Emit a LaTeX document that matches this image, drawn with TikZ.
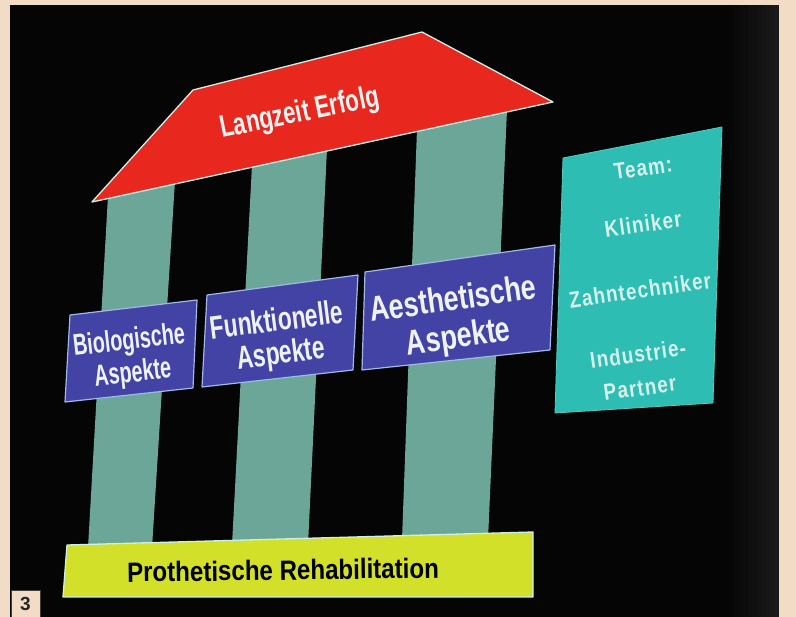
\documentclass[tikz,border=0pt]{standalone}
\usepackage{fontspec}
\setmainfont{Liberation Sans}
\newfontfamily\condR[FakeStretch=0.72]{Liberation Sans}
\newfontfamily\condA[FakeStretch=0.66]{Liberation Sans}
\newfontfamily\condB[FakeStretch=0.70]{Liberation Sans}
\newfontfamily\condD[FakeStretch=0.77]{Liberation Sans}
\newfontfamily\condC[FakeStretch=0.86]{Liberation Sans}
\newfontfamily\teamf[FakeStretch=0.82,LetterSpace=5]{Liberation Sans}
\definecolor{beige}{HTML}{F2DCC6}
\definecolor{bgblack}{HTML}{050505}
\definecolor{curtain}{HTML}{1A1A1A}
\definecolor{roofred}{HTML}{E8281E}
\definecolor{edge}{HTML}{CDEFE6}
\definecolor{colteal}{HTML}{6CA698}
\definecolor{boxblue}{HTML}{4343A6}
\definecolor{blueedge}{HTML}{9FB8E6}
\definecolor{teamteal}{HTML}{2EBDB3}
\definecolor{baseyellow}{HTML}{D3E02A}
\definecolor{txtwhite}{HTML}{EEF2F0}
\definecolor{teamtxt}{HTML}{D6EFEA}
\tikzset{
  column/.style={fill=colteal},
  aspect/.style={fill=boxblue, draw=blueedge, line width=1.2pt, line join=round},
  lbl/.style={text=txtwhite, align=center, inner sep=0pt},
  teamlbl/.style={text=teamtxt, inner sep=0pt, rotate=8},
}
\begin{document}
\begin{tikzpicture}[x=1pt,y=-1pt]
\useasboundingbox (0,0) rectangle (796,617);
% frame and screen
\fill[beige] (0,0) rectangle (796,617);
\fill[bgblack] (10,5) rectangle (779,617);
\foreach \i [evaluate=\i as \p using int(\i*9)] in {0,...,11}
  \fill[curtain!\p!bgblack] ({725+\i*4.5},5) rectangle ({min(779,725+(\i+1)*4.5+0.3)},617);
% columns
\fill[column] (108,196) -- (175,181) -- (152,548) -- (88,548) -- cycle;
\fill[column] (252,165) -- (327,149) -- (308,545) -- (232,545) -- cycle;
\fill[column] (417,129) -- (507,110) -- (488,540) -- (402,540) -- cycle;
% roof
\draw[fill=roofred, draw=edge, line width=1.3pt, line join=round]
  (92,202) -- (193,90) -- (422,32) -- (553,102) -- cycle;
\node[lbl, font=\condR\bfseries\fontsize{31}{35}\selectfont, rotate=11.5] (roof) at (300,114) {Langzeit Erfolg};
% aspect boxes
\draw[aspect] (70,315) -- (197,300) -- (193,388) -- (65,402) -- cycle;
\draw[aspect] (207,295) -- (358,275) -- (353,370) -- (202,387) -- cycle;
\draw[aspect] (365,272) -- (555,245) -- (550,350) -- (362,370) -- cycle;
\node[lbl, font=\condA\bfseries\fontsize{30}{33}\selectfont, rotate=6.5] (bio) at (131,358) {Biologische\\Aspekte};
\node[lbl, font=\condB\bfseries\fontsize{32.5}{33}\selectfont, rotate=7.2] (funk) at (279,339) {Funktionelle\\Aspekte};
\node[lbl, font=\condD\bfseries\fontsize{35}{38}\selectfont, rotate=8] (aest) at (456,320) {Aesthetische\\Aspekte};
% team box
\draw[fill=teamteal, draw=teamteal!80!white, line width=0.8pt] (563,158) -- (722,127) -- (713,403) -- (555,413) -- cycle;
\node[teamlbl, font=\teamf\bfseries\fontsize{23}{26}\selectfont] (team) at (643,168) {Team:};
\node[teamlbl, font=\teamf\bfseries\fontsize{23}{26}\selectfont] (klin) at (643,224) {Kliniker};
\node[teamlbl, font=\teamf\bfseries\fontsize{23}{26}\selectfont] (zahn) at (640,290) {Zahntechniker};
\node[teamlbl, font=\teamf\bfseries\fontsize{23}{26}\selectfont] (indu) at (638,354) {Industrie-};
\node[teamlbl, font=\teamf\bfseries\fontsize{23}{26}\selectfont] (part) at (640,388) {Partner};
% base
\draw[fill=baseyellow, draw=edge, line width=1.3pt, line join=round]
  (67,545) -- (533,532) -- (533,597) -- (63,597) -- cycle;
\node[inner sep=0pt, text=black, font=\condC\bfseries\fontsize{28}{32}\selectfont, rotate=0.8] (base) at (283,570) {Prothetische Rehabilitation};
% figure number
\draw[fill=beige, draw=black!75, line width=0.8pt] (11,590) rectangle (40,618);
\node[inner sep=0pt, font=\bfseries\fontsize{19}{22}\selectfont, text=black!85] (num) at (25.5,604) {3};
\end{tikzpicture}
\end{document}
